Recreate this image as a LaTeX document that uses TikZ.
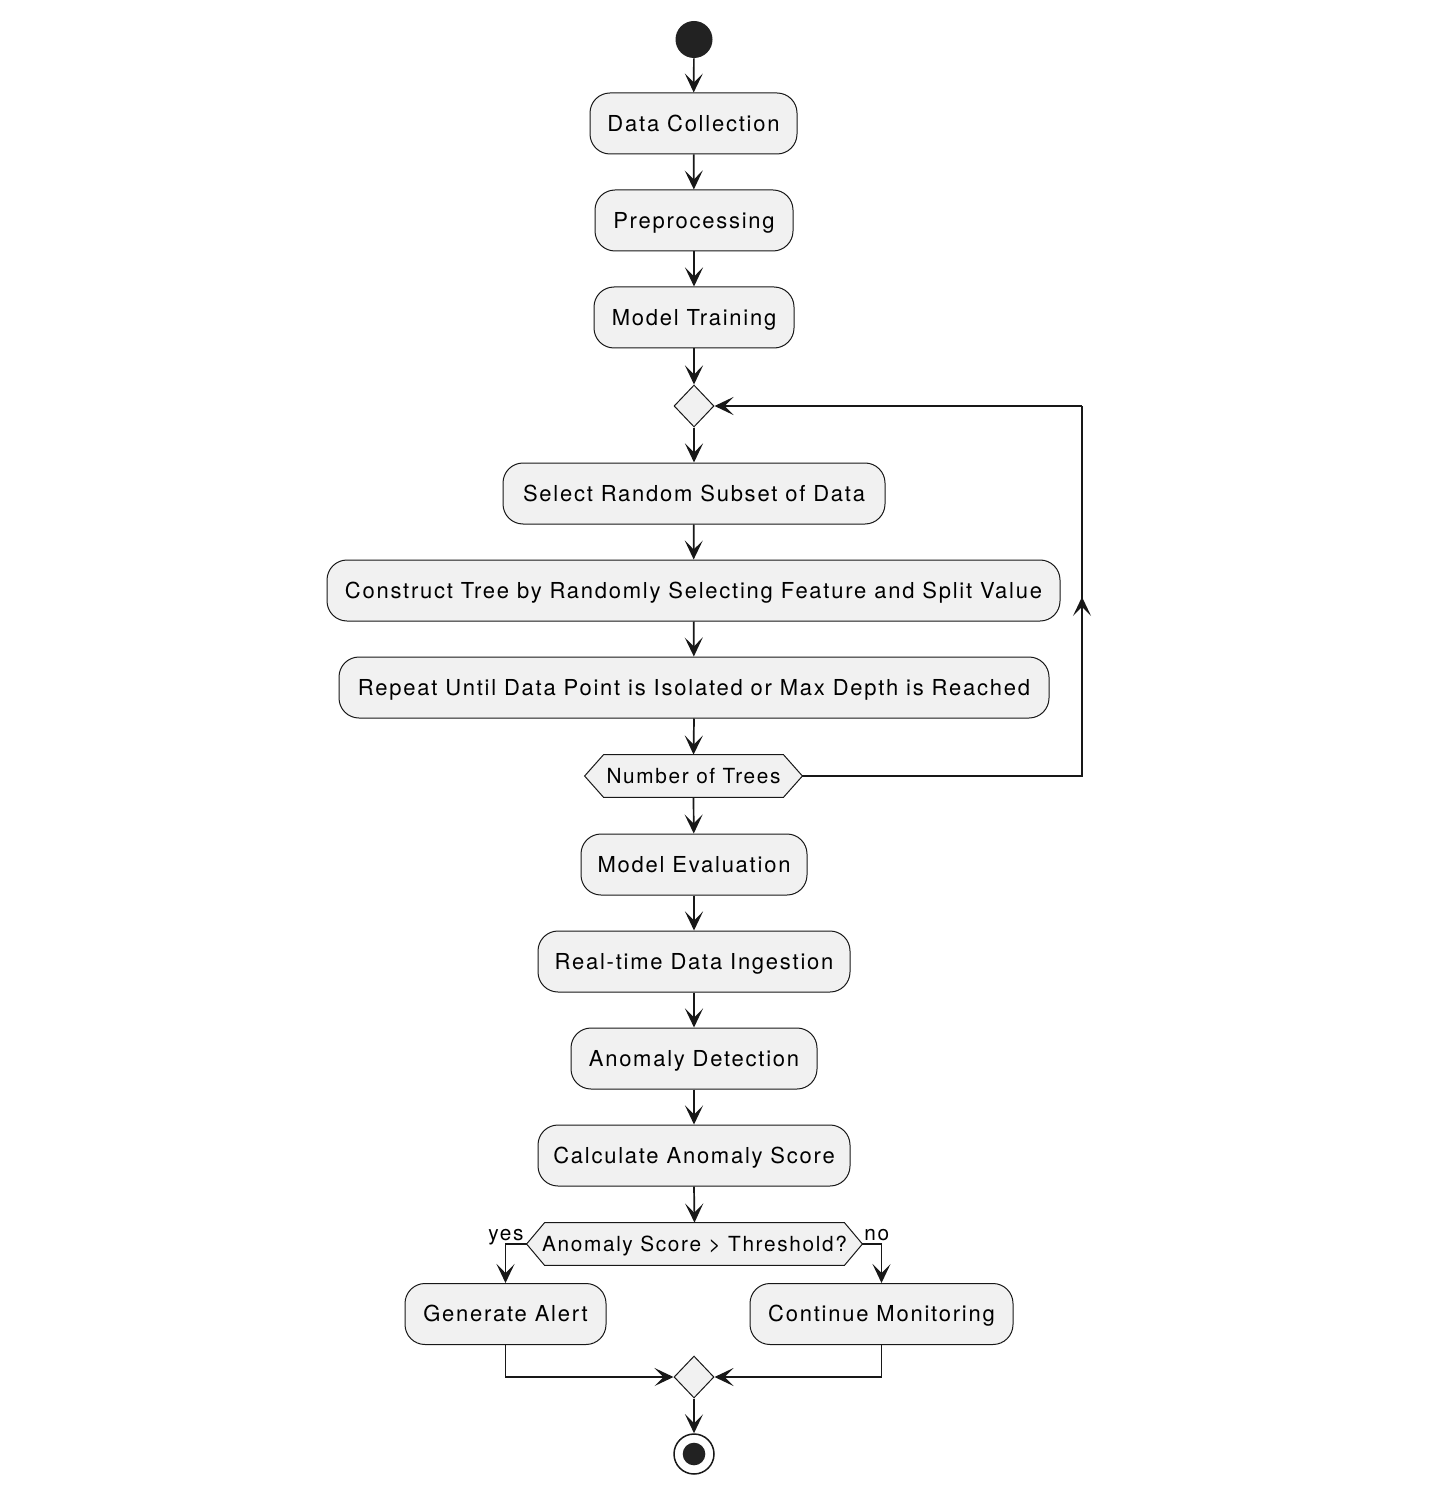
\documentclass[tikz,border=0pt]{standalone}
\usepackage{fontspec}
\setmainfont{TeX Gyre Heros}[LetterSpace=8]
\usetikzlibrary{arrows.meta,shapes.geometric,calc}
\pgfdeclarelayer{bg}
\pgfsetlayers{bg,main}
\definecolor{boxfill}{HTML}{F1F1F1}
\definecolor{edgec}{HTML}{181818}
\definecolor{dotc}{HTML}{222222}
\begin{document}
\begin{tikzpicture}[x=0.5pt,y=-0.5pt,
  act/.style={draw=edgec, fill=boxfill, line width=0.5pt, rounded corners=10pt,
    minimum height=30.5pt, inner sep=0pt, text height=7.9pt, text depth=0pt,
    font=\fontsize{11}{13}\selectfont, text=black},
  dia/.style={diamond, draw=edgec, fill=boxfill, line width=0.5pt,
    minimum width=20pt, minimum height=21pt, inner sep=0pt},
  hexnode/.style={minimum height=21pt, inner sep=0pt, text height=7.5pt, text depth=0pt,
    font=\fontsize{10.4}{12}\selectfont, text=black},
  hexshape/.style={draw=edgec, fill=boxfill, line width=0.5pt},
  arr/.style={draw=edgec, line width=0.85pt, -{Stealth[length=9.5pt,width=9pt,inset=4.5pt]}},
  ln/.style={draw=edgec, line width=0.85pt},
  lbl/.style={font=\fontsize{10.4}{12}\selectfont, inner sep=0pt, text=black}]
\useasboundingbox (0,0) rectangle (1432,1502);

\node[circle, fill=dotc, minimum size=18.5pt, inner sep=0pt] (start) at (694,39.5) {};
\node[act, minimum width=103.5pt] (dc) at (693.5,123.5) {Data Collection};
\node[act, minimum width=99pt] (pp) at (694,220.5) {Preprocessing};
\node[act, minimum width=100pt] (mt) at (694,317.5) {Model Training};
\node[dia] (d1) at (694,406) {};
\node[act, minimum width=191pt] (srs) at (694,493.5) {Select Random Subset of Data};
\node[act, minimum width=366.5pt] (ct) at (693.5,590.5) {Construct Tree by Randomly Selecting Feature and Split Value};
\node[act, minimum width=355pt] (ru) at (694,687.5) {Repeat Until Data Point is Isolated or Max Depth is Reached};
\node[hexnode, minimum width=108.5pt] (h1) at (693.5,776) {Number of Trees};
\node[act, minimum width=113pt] (me) at (694,864.5) {Model Evaluation};
\node[act, minimum width=156pt] (rt) at (694,961.5) {Real-time Data Ingestion};
\node[act, minimum width=123pt] (ad) at (694,1058.5) {Anomaly Detection};
\node[act, minimum width=156pt] (ca) at (694,1155.5) {Calculate Anomaly Score};
\node[hexnode, minimum width=167.5pt] (h2) at (694.5,1244) {Anomaly Score \textgreater{} Threshold?};
\node[act, minimum width=100.5pt] (ga) at (505.5,1314) {Generate Alert};
\node[act, minimum width=131.5pt] (cm) at (881.5,1314) {Continue Monitoring};
\node[dia] (d2) at (694,1377) {};
\node[circle, draw=edgec, line width=0.75pt, minimum size=20pt, inner sep=0pt] (stop) at (694,1454) {};
\node[circle, fill=dotc, minimum size=11.3pt, inner sep=0pt] (stopdot) at (stop.center) {};

\node[lbl, anchor=base east] (yes) at (524,1240) {yes};
\node[lbl, anchor=base west] (no) at (864,1240) {no};

\begin{pgfonlayer}{bg}
\fill[white] (0,0) rectangle (1432,1502);
\path[hexshape] (h1.west) -- ([xshift=9.5pt]h1.north west) -- ([xshift=-9.5pt]h1.north east)
  -- (h1.east) -- ([xshift=-9.5pt]h1.south east) -- ([xshift=9.5pt]h1.south west) -- cycle;
\path[hexshape] (h2.west) -- ([xshift=9pt]h2.north west) -- ([xshift=-9pt]h2.north east)
  -- (h2.east) -- ([xshift=-9pt]h2.south east) -- ([xshift=9pt]h2.south west) -- cycle;
\end{pgfonlayer}

\coordinate (lp1) at (1082,776);
\coordinate (lp2) at (1082,406);

\draw[arr] (start) -- (dc);
\draw[arr] (dc) -- (pp);
\draw[arr] (pp) -- (mt);
\draw[arr] (mt) -- (d1);
\draw[arr] (d1) -- (srs);
\draw[arr] (srs) -- (ct);
\draw[arr] (ct) -- (ru);
\draw[arr] (ru.south) -- (h1.north);
\draw[arr] (h1.south) -- (me);
\draw[arr] (me) -- (rt);
\draw[arr] (rt) -- (ad);
\draw[arr] (ad) -- (ca);
\draw[arr] (ca.south) -- (h2.north);
\draw[ln] (h1.east) -- (lp1) -- (lp2);
\draw[arr] (lp2) -- (d1.east);
\draw[arr] (lp1) -- ($(lp1)!0.484!(lp2)$);
\draw[arr] (h2.west) -| (ga.north);
\draw[arr] (h2.east) -| (cm.north);
\draw[arr] (ga.south) |- (d2.west);
\draw[arr] (cm.south) |- (d2.east);
\draw[arr] (d2) -- (stop);
\end{tikzpicture}
\end{document}
